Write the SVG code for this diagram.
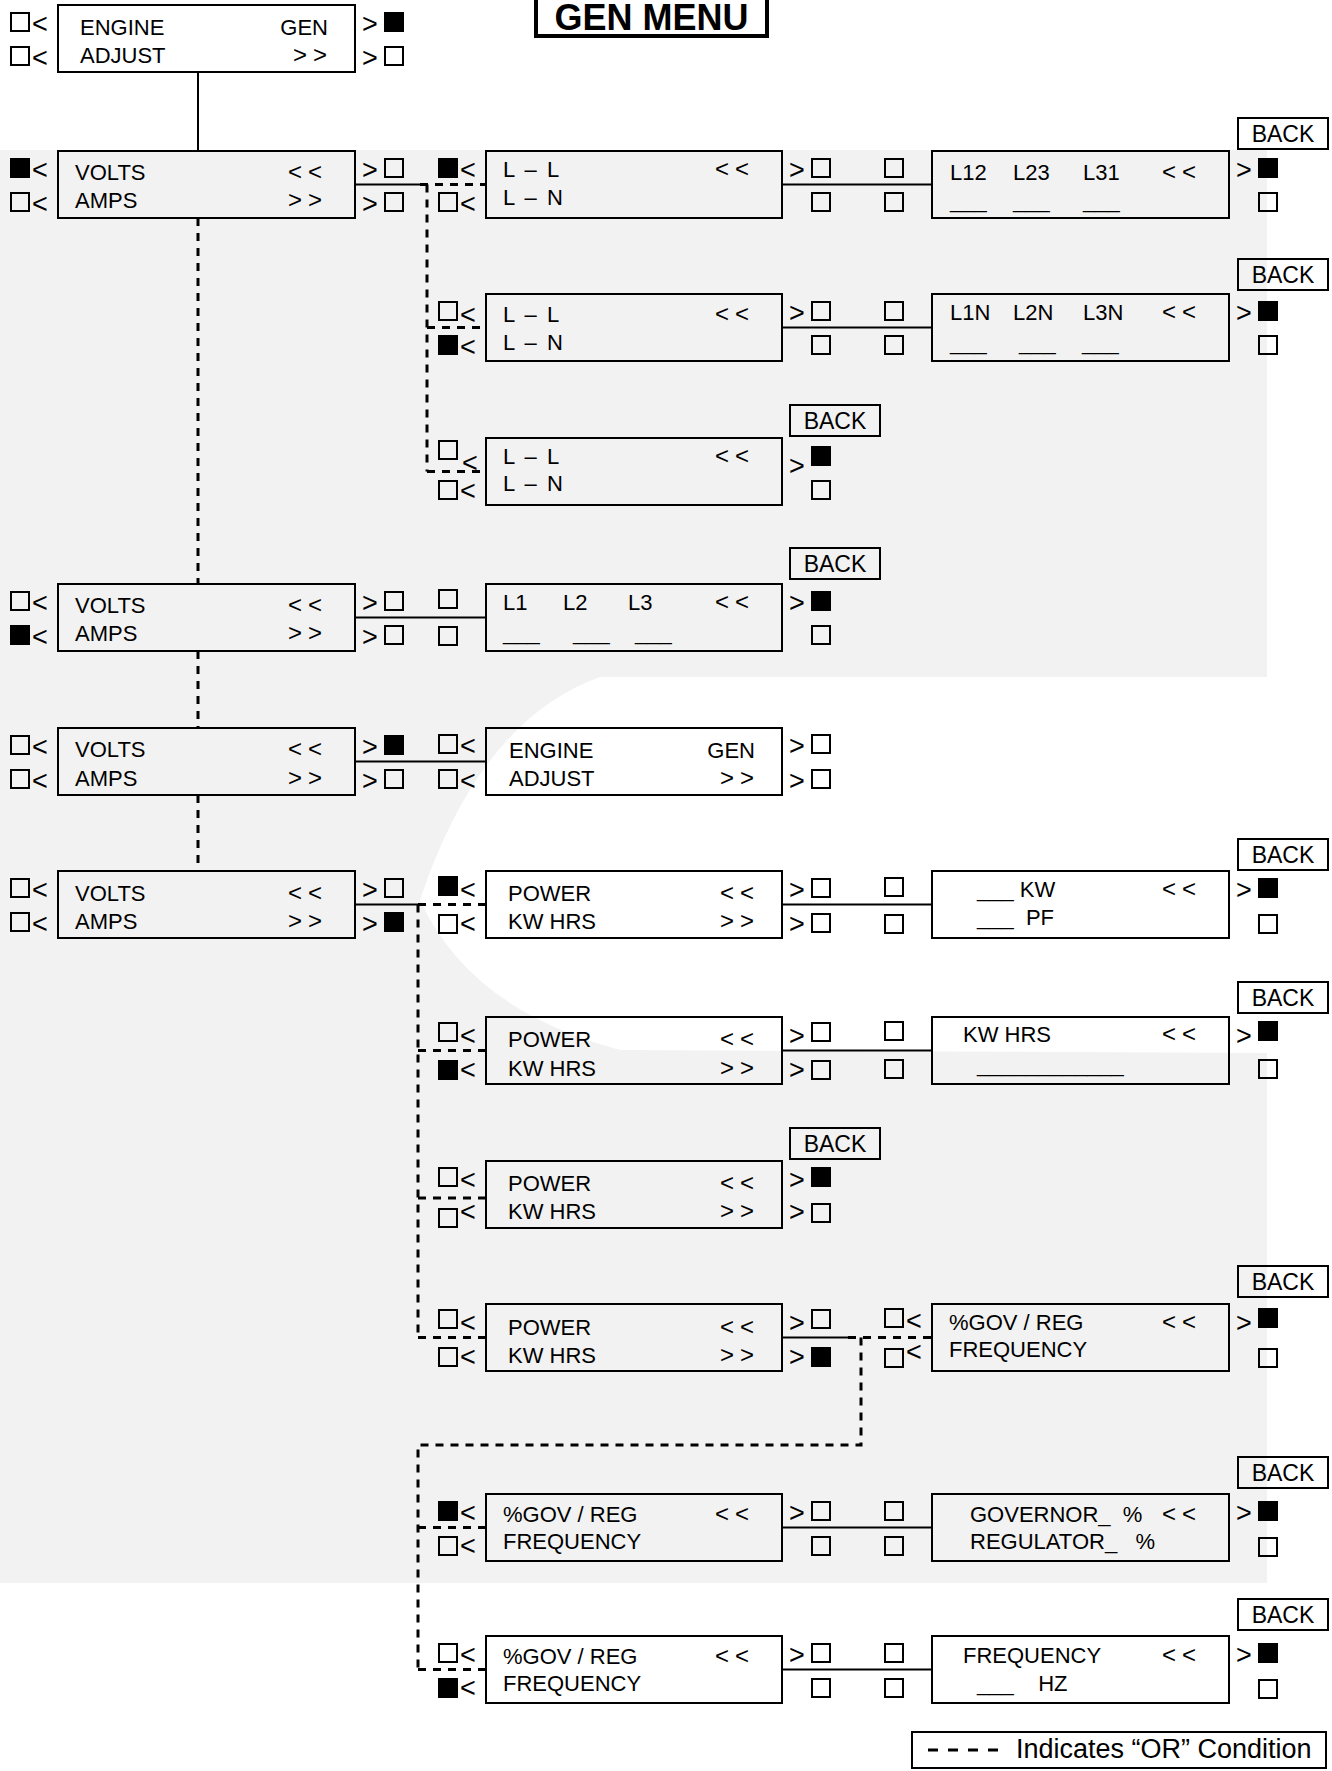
<svg xmlns="http://www.w3.org/2000/svg" width="1332" height="1771" viewBox="0 0 1332 1771">
<style>
.bx{fill:none;stroke:#000;stroke-width:2}
.sq{fill:none;stroke:#000;stroke-width:2}
.sf{fill:#000;stroke:#000;stroke-width:2}
.ln{fill:none;stroke:#000;stroke-width:2}
.dl{fill:none;stroke:#000;stroke-width:3;stroke-dasharray:8 7}
.t{font-family:"Liberation Sans",Arial,Helvetica,sans-serif;font-size:22px;fill:#000;white-space:pre}
.a{font-family:"Liberation Sans",Arial,sans-serif;font-size:24px;letter-spacing:6px;fill:#000}
.g{font-family:"Liberation Sans",Arial,sans-serif;font-size:27px;fill:#000;transform:translateY(-2px)}
.bk{font-family:"Liberation Sans",Arial,sans-serif;font-size:23px;fill:#000;text-anchor:middle}
.e{text-anchor:end}
</style>
<rect width="1332" height="1771" fill="#fff"/>
<g id="watermark">
<rect x="0" y="150" width="1267" height="1433" fill="#f2f2f2"/>
<path d="M600,677 L1267,677 L1267,1053 L620,1050 Q470,1010 420,900 Q480,720 600,677 Z" fill="#fff"/>
</g>
<g id="title">
<rect x="536" y="-20" width="231" height="56" fill="#fff" stroke="#000" stroke-width="4"/>
<text x="651.5" y="29.5" font-family="Liberation Sans,Arial,sans-serif" font-size="36" font-weight="bold" text-anchor="middle">GEN MENU</text>
</g>
<g id="connectors">
<path class="ln" d="M198,72 V151"/>
<path class="dl" d="M198,218 V584 M198,651 V728 M198,795 V871"/>
<path class="ln" d="M355,184.5 H420"/>
<path class="dl" d="M420,184.5 H486 M427,184.5 V471.5 M427,327.5 H486 M427,471.5 H486"/>
<path class="ln" d="M782,184.5 H932 M782,327.5 H932"/>
<path class="ln" d="M355,617.5 H486 M355,761.5 H486"/>
<path class="ln" d="M355,904.5 H418"/>
<path class="dl" d="M418,904.5 H486 M418,904.5 V1337.5 M418,1050.5 H486 M418,1198 H486 M418,1337.5 H486"/>
<path class="ln" d="M782,904.5 H932 M782,1050.5 H932"/>
<path class="ln" d="M782,1337.5 H848"/>
<path class="dl" d="M848,1337.5 H932 M861,1337.5 V1445 H418 V1669.5 M418,1527.5 H486 M418,1669.5 H486"/>
<path class="ln" d="M782,1527.5 H932 M782,1669.5 H932"/>
</g>
<g id="engine-adjust-top">
<rect class="bx" x="58" y="5" width="297" height="67"/>
<text class="t" x="80" y="35">ENGINE</text><text class="t e" x="328" y="35">GEN</text>
<text class="t" x="80" y="63">ADJUST</text><text class="a" x="293" y="63">&gt;&gt;</text>
<rect class="sq" x="11" y="13" width="18" height="18"/><text class="g" x="32" y="35">&lt;</text>
<rect class="sq" x="11" y="47" width="18" height="18"/><text class="g" x="32" y="69">&lt;</text>
<text class="g" x="362" y="35">&gt;</text><rect class="sf" x="385" y="13" width="18" height="18"/>
<text class="g" x="362" y="69">&gt;</text><rect class="sq" x="385" y="47" width="18" height="18"/>
</g>
<g id="volts-1">
<rect class="bx" x="58" y="151" width="297" height="67"/>
<text class="t" x="75" y="180">VOLTS</text><text class="a" x="288" y="180">&lt;&lt;</text>
<text class="t" x="75" y="208">AMPS</text><text class="a" x="288" y="208">&gt;&gt;</text>
<rect class="sf" x="11" y="159" width="18" height="18"/><text class="g" x="32" y="181">&lt;</text>
<rect class="sq" x="11" y="193" width="18" height="18"/><text class="g" x="32" y="215">&lt;</text>
<text class="g" x="362" y="181">&gt;</text><rect class="sq" x="385" y="159" width="18" height="18"/>
<text class="g" x="362" y="215">&gt;</text><rect class="sq" x="385" y="193" width="18" height="18"/>
</g>
<g id="ll-1">
<rect class="bx" x="486" y="151" width="296" height="67"/>
<text class="t" x="503" y="177" word-spacing="4">L – L</text><text class="a" x="715" y="177">&lt;&lt;</text>
<text class="t" x="503" y="205" word-spacing="4">L – N</text>
<rect class="sf" x="439" y="159" width="18" height="18"/><text class="g" x="460" y="181">&lt;</text>
<rect class="sq" x="439" y="193" width="18" height="18"/><text class="g" x="460" y="215">&lt;</text>
<text class="g" x="789" y="181">&gt;</text><rect class="sq" x="812" y="159" width="18" height="18"/>
<rect class="sq" x="812" y="193" width="18" height="18"/>
</g>
<g id="l12">
<rect class="sq" x="885" y="159" width="18" height="18"/><rect class="sq" x="885" y="193" width="18" height="18"/>
<rect class="bx" x="932" y="151" width="297" height="67"/>
<text class="t" x="950" y="180">L12</text><text class="t" x="1013" y="180">L23</text><text class="t" x="1083" y="180">L31</text><text class="a" x="1162" y="180">&lt;&lt;</text>
<text class="t" x="950" y="208">___</text><text class="t" x="1013" y="208">___</text><text class="t" x="1083" y="208">___</text>
<text class="g" x="1236" y="181">&gt;</text><rect class="sf" x="1259" y="159" width="18" height="18"/>
<rect class="sq" x="1259" y="193" width="18" height="18"/>
<rect class="bx" x="1238" y="118" width="90" height="31"/><text class="bk" x="1283" y="142">BACK</text>
</g>
<g id="ll-2">
<rect class="bx" x="486" y="294" width="296" height="67"/>
<text class="t" x="503" y="322" word-spacing="4">L – L</text><text class="a" x="715" y="322">&lt;&lt;</text>
<text class="t" x="503" y="350" word-spacing="4">L – N</text>
<rect class="sq" x="439" y="302" width="18" height="18"/><text class="g" x="460" y="326">&lt;</text>
<rect class="sf" x="439" y="336" width="18" height="18"/><text class="g" x="460" y="358">&lt;</text>
<text class="g" x="789" y="324">&gt;</text><rect class="sq" x="812" y="302" width="18" height="18"/>
<rect class="sq" x="812" y="336" width="18" height="18"/>
</g>
<g id="l1n">
<rect class="sq" x="885" y="302" width="18" height="18"/><rect class="sq" x="885" y="336" width="18" height="18"/>
<rect class="bx" x="932" y="294" width="297" height="67"/>
<text class="t" x="950" y="320">L1N</text><text class="t" x="1013" y="320">L2N</text><text class="t" x="1083" y="320">L3N</text><text class="a" x="1162" y="320">&lt;&lt;</text>
<text class="t" x="950" y="350">___</text><text class="t" x="1019" y="350">___</text><text class="t" x="1082" y="350">___</text>
<text class="g" x="1236" y="324">&gt;</text><rect class="sf" x="1259" y="302" width="18" height="18"/>
<rect class="sq" x="1259" y="336" width="18" height="18"/>
<rect class="bx" x="1238" y="259" width="90" height="31"/><text class="bk" x="1283" y="283">BACK</text>
</g>
<g id="ll-3">
<rect class="bx" x="486" y="438" width="296" height="67"/>
<text class="t" x="503" y="464" word-spacing="4">L – L</text><text class="a" x="715" y="464">&lt;&lt;</text>
<text class="t" x="503" y="491" word-spacing="4">L – N</text>
<rect class="sq" x="439" y="441" width="18" height="18"/><text class="g" x="462" y="474">&lt;</text>
<rect class="sq" x="439" y="481" width="18" height="18"/><text class="g" x="460" y="502">&lt;</text>
<text class="g" x="789" y="477">&gt;</text><rect class="sf" x="812" y="447" width="18" height="18"/>
<rect class="sq" x="812" y="481" width="18" height="18"/>
<rect class="bx" x="790" y="405" width="90" height="31"/><text class="bk" x="835" y="429">BACK</text>
</g>
<g id="volts-2">
<rect class="bx" x="58" y="584" width="297" height="67"/>
<text class="t" x="75" y="613">VOLTS</text><text class="a" x="288" y="613">&lt;&lt;</text>
<text class="t" x="75" y="641">AMPS</text><text class="a" x="288" y="641">&gt;&gt;</text>
<rect class="sq" x="11" y="592" width="18" height="18"/><text class="g" x="32" y="614">&lt;</text>
<rect class="sf" x="11" y="626" width="18" height="18"/><text class="g" x="32" y="648">&lt;</text>
<text class="g" x="362" y="614">&gt;</text><rect class="sq" x="385" y="592" width="18" height="18"/>
<text class="g" x="362" y="648">&gt;</text><rect class="sq" x="385" y="626" width="18" height="18"/>
</g>
<g id="l1-l2-l3">
<rect class="sq" x="439" y="590" width="18" height="18"/><rect class="sq" x="439" y="627" width="18" height="18"/>
<rect class="bx" x="486" y="584" width="296" height="67"/>
<text class="t" x="503" y="610">L1</text><text class="t" x="563" y="610">L2</text><text class="t" x="628" y="610">L3</text><text class="a" x="715" y="610">&lt;&lt;</text>
<text class="t" x="503" y="640">___</text><text class="t" x="573" y="640">___</text><text class="t" x="635" y="640">___</text>
<text class="g" x="789" y="614">&gt;</text><rect class="sf" x="812" y="592" width="18" height="18"/>
<rect class="sq" x="812" y="626" width="18" height="18"/>
<rect class="bx" x="790" y="548" width="90" height="31"/><text class="bk" x="835" y="572">BACK</text>
</g>
<g id="volts-3">
<rect class="bx" x="58" y="728" width="297" height="67"/>
<text class="t" x="75" y="757">VOLTS</text><text class="a" x="288" y="757">&lt;&lt;</text>
<text class="t" x="75" y="786">AMPS</text><text class="a" x="288" y="786">&gt;&gt;</text>
<rect class="sq" x="11" y="736" width="18" height="18"/><text class="g" x="32" y="758">&lt;</text>
<rect class="sq" x="11" y="770" width="18" height="18"/><text class="g" x="32" y="792">&lt;</text>
<text class="g" x="362" y="758">&gt;</text><rect class="sf" x="385" y="736" width="18" height="18"/>
<text class="g" x="362" y="792">&gt;</text><rect class="sq" x="385" y="770" width="18" height="18"/>
</g>
<g id="engine-adjust-2">
<rect class="bx" x="486" y="728" width="296" height="67"/>
<text class="t" x="509" y="758">ENGINE</text><text class="t e" x="755" y="758">GEN</text>
<text class="t" x="509" y="786">ADJUST</text><text class="a" x="720" y="786">&gt;&gt;</text>
<rect class="sq" x="439" y="735" width="18" height="18"/><text class="g" x="460" y="757">&lt;</text>
<rect class="sq" x="439" y="770" width="18" height="18"/><text class="g" x="460" y="792">&lt;</text>
<text class="g" x="789" y="757">&gt;</text><rect class="sq" x="812" y="735" width="18" height="18"/>
<text class="g" x="789" y="792">&gt;</text><rect class="sq" x="812" y="770" width="18" height="18"/>
</g>
<g id="volts-4">
<rect class="bx" x="58" y="871" width="297" height="67"/>
<text class="t" x="75" y="901">VOLTS</text><text class="a" x="288" y="901">&lt;&lt;</text>
<text class="t" x="75" y="929">AMPS</text><text class="a" x="288" y="929">&gt;&gt;</text>
<rect class="sq" x="11" y="879" width="18" height="18"/><text class="g" x="32" y="901">&lt;</text>
<rect class="sq" x="11" y="913" width="18" height="18"/><text class="g" x="32" y="935">&lt;</text>
<text class="g" x="362" y="901">&gt;</text><rect class="sq" x="385" y="879" width="18" height="18"/>
<text class="g" x="362" y="935">&gt;</text><rect class="sf" x="385" y="913" width="18" height="18"/>
</g>
<g id="power-1">
<rect class="bx" x="486" y="871" width="296" height="67"/>
<text class="t" x="508" y="901">POWER</text><text class="a" x="720" y="901">&lt;&lt;</text>
<text class="t" x="508" y="929">KW HRS</text><text class="a" x="720" y="929">&gt;&gt;</text>
<rect class="sf" x="439" y="877" width="18" height="18"/><text class="g" x="460" y="901">&lt;</text>
<rect class="sq" x="439" y="915" width="18" height="18"/><text class="g" x="460" y="935">&lt;</text>
<text class="g" x="789" y="901">&gt;</text><rect class="sq" x="812" y="879" width="18" height="18"/>
<text class="g" x="789" y="935">&gt;</text><rect class="sq" x="812" y="914" width="18" height="18"/>
</g>
<g id="kw-pf">
<rect class="sq" x="885" y="878" width="18" height="18"/><rect class="sq" x="885" y="915" width="18" height="18"/>
<rect class="bx" x="932" y="871" width="297" height="67"/>
<text class="t" x="977" y="897">___ KW</text><text class="a" x="1162" y="897">&lt;&lt;</text>
<text class="t" x="977" y="925">___  PF</text>
<text class="g" x="1236" y="901">&gt;</text><rect class="sf" x="1259" y="879" width="18" height="18"/>
<rect class="sq" x="1259" y="915" width="18" height="18"/>
<rect class="bx" x="1238" y="839" width="90" height="31"/><text class="bk" x="1283" y="863">BACK</text>
</g>
<g id="power-2">
<rect class="bx" x="486" y="1017" width="296" height="67"/>
<text class="t" x="508" y="1047">POWER</text><text class="a" x="720" y="1047">&lt;&lt;</text>
<text class="t" x="508" y="1076">KW HRS</text><text class="a" x="720" y="1076">&gt;&gt;</text>
<rect class="sq" x="439" y="1023" width="18" height="18"/><text class="g" x="460" y="1047">&lt;</text>
<rect class="sf" x="439" y="1061" width="18" height="18"/><text class="g" x="460" y="1081">&lt;</text>
<text class="g" x="789" y="1047">&gt;</text><rect class="sq" x="812" y="1023" width="18" height="18"/>
<text class="g" x="789" y="1081">&gt;</text><rect class="sq" x="812" y="1061" width="18" height="18"/>
</g>
<g id="kw-hrs">
<rect class="sq" x="885" y="1022" width="18" height="18"/><rect class="sq" x="885" y="1060" width="18" height="18"/>
<rect class="bx" x="932" y="1017" width="297" height="67"/>
<text class="t" x="963" y="1042">KW HRS</text><text class="a" x="1162" y="1042">&lt;&lt;</text>
<text class="t" x="977" y="1072">____________</text>
<text class="g" x="1236" y="1047">&gt;</text><rect class="sf" x="1259" y="1022" width="18" height="18"/>
<rect class="sq" x="1259" y="1060" width="18" height="18"/>
<rect class="bx" x="1238" y="982" width="90" height="31"/><text class="bk" x="1283" y="1006">BACK</text>
</g>
<g id="power-3">
<rect class="bx" x="486" y="1161" width="296" height="67"/>
<text class="t" x="508" y="1191">POWER</text><text class="a" x="720" y="1191">&lt;&lt;</text>
<text class="t" x="508" y="1219">KW HRS</text><text class="a" x="720" y="1219">&gt;&gt;</text>
<rect class="sq" x="439" y="1168" width="18" height="18"/><text class="g" x="460" y="1191">&lt;</text>
<rect class="sq" x="439" y="1209" width="18" height="18"/><text class="g" x="460" y="1223">&lt;</text>
<text class="g" x="789" y="1191">&gt;</text><rect class="sf" x="812" y="1168" width="18" height="18"/>
<text class="g" x="789" y="1223">&gt;</text><rect class="sq" x="812" y="1204" width="18" height="18"/>
<rect class="bx" x="790" y="1128" width="90" height="31"/><text class="bk" x="835" y="1152">BACK</text>
</g>
<g id="power-4">
<rect class="bx" x="486" y="1304" width="296" height="67"/>
<text class="t" x="508" y="1335">POWER</text><text class="a" x="720" y="1335">&lt;&lt;</text>
<text class="t" x="508" y="1363">KW HRS</text><text class="a" x="720" y="1363">&gt;&gt;</text>
<rect class="sq" x="439" y="1310" width="18" height="18"/><text class="g" x="460" y="1334">&lt;</text>
<rect class="sq" x="439" y="1348" width="18" height="18"/><text class="g" x="460" y="1368">&lt;</text>
<text class="g" x="789" y="1334">&gt;</text><rect class="sq" x="812" y="1310" width="18" height="18"/>
<text class="g" x="789" y="1368">&gt;</text><rect class="sf" x="812" y="1348" width="18" height="18"/>
</g>
<g id="gov-reg-1">
<rect class="sq" x="885" y="1309" width="18" height="18"/><text class="g" x="906" y="1332">&lt;</text>
<rect class="sq" x="885" y="1349" width="18" height="18"/><text class="g" x="906" y="1363">&lt;</text>
<rect class="bx" x="932" y="1304" width="297" height="67"/>
<text class="t" x="949" y="1330">%GOV / REG</text><text class="a" x="1162" y="1330">&lt;&lt;</text>
<text class="t" x="949" y="1357">FREQUENCY</text>
<text class="g" x="1236" y="1334">&gt;</text><rect class="sf" x="1259" y="1309" width="18" height="18"/>
<rect class="sq" x="1259" y="1349" width="18" height="18"/>
<rect class="bx" x="1238" y="1266" width="90" height="31"/><text class="bk" x="1283" y="1290">BACK</text>
</g>
<g id="gov-reg-2">
<rect class="bx" x="486" y="1494" width="296" height="67"/>
<text class="t" x="503" y="1522">%GOV / REG</text><text class="a" x="715" y="1522">&lt;&lt;</text>
<text class="t" x="503" y="1549">FREQUENCY</text>
<rect class="sf" x="439" y="1502" width="18" height="18"/><text class="g" x="460" y="1524">&lt;</text>
<rect class="sq" x="439" y="1537" width="18" height="18"/><text class="g" x="460" y="1557">&lt;</text>
<text class="g" x="789" y="1524">&gt;</text><rect class="sq" x="812" y="1502" width="18" height="18"/>
<rect class="sq" x="812" y="1537" width="18" height="18"/>
</g>
<g id="governor-regulator">
<rect class="sq" x="885" y="1502" width="18" height="18"/><rect class="sq" x="885" y="1537" width="18" height="18"/>
<rect class="bx" x="932" y="1494" width="297" height="67"/>
<text class="t" x="970" y="1522">GOVERNOR_  %</text><text class="a" x="1162" y="1522">&lt;&lt;</text>
<text class="t" x="970" y="1549">REGULATOR_   %</text>
<text class="g" x="1236" y="1524">&gt;</text><rect class="sf" x="1259" y="1502" width="18" height="18"/>
<rect class="sq" x="1259" y="1538" width="18" height="18"/>
<rect class="bx" x="1238" y="1457" width="90" height="31"/><text class="bk" x="1283" y="1481">BACK</text>
</g>
<g id="gov-reg-3">
<rect class="bx" x="486" y="1636" width="296" height="67"/>
<text class="t" x="503" y="1664">%GOV / REG</text><text class="a" x="715" y="1664">&lt;&lt;</text>
<text class="t" x="503" y="1691">FREQUENCY</text>
<rect class="sq" x="439" y="1644" width="18" height="18"/><text class="g" x="460" y="1666">&lt;</text>
<rect class="sf" x="439" y="1679" width="18" height="18"/><text class="g" x="460" y="1699">&lt;</text>
<text class="g" x="789" y="1666">&gt;</text><rect class="sq" x="812" y="1644" width="18" height="18"/>
<rect class="sq" x="812" y="1679" width="18" height="18"/>
</g>
<g id="frequency-hz">
<rect class="sq" x="885" y="1644" width="18" height="18"/><rect class="sq" x="885" y="1679" width="18" height="18"/>
<rect class="bx" x="932" y="1636" width="297" height="67"/>
<text class="t" x="963" y="1663">FREQUENCY</text><text class="a" x="1162" y="1663">&lt;&lt;</text>
<text class="t" x="977" y="1691">___    HZ</text>
<text class="g" x="1236" y="1666">&gt;</text><rect class="sf" x="1259" y="1644" width="18" height="18"/>
<rect class="sq" x="1259" y="1680" width="18" height="18"/>
<rect class="bx" x="1238" y="1599" width="90" height="31"/><text class="bk" x="1283" y="1623">BACK</text>
</g>
<g id="legend">
<rect class="bx" x="912" y="1732" width="414" height="36"/>
<path d="M928,1750 H998" fill="none" stroke="#000" stroke-width="3" stroke-dasharray="10 10"/>
<text x="1016" y="1758" font-family="Liberation Sans,Arial,sans-serif" font-size="27">Indicates “OR” Condition</text>
</g>
</svg>
